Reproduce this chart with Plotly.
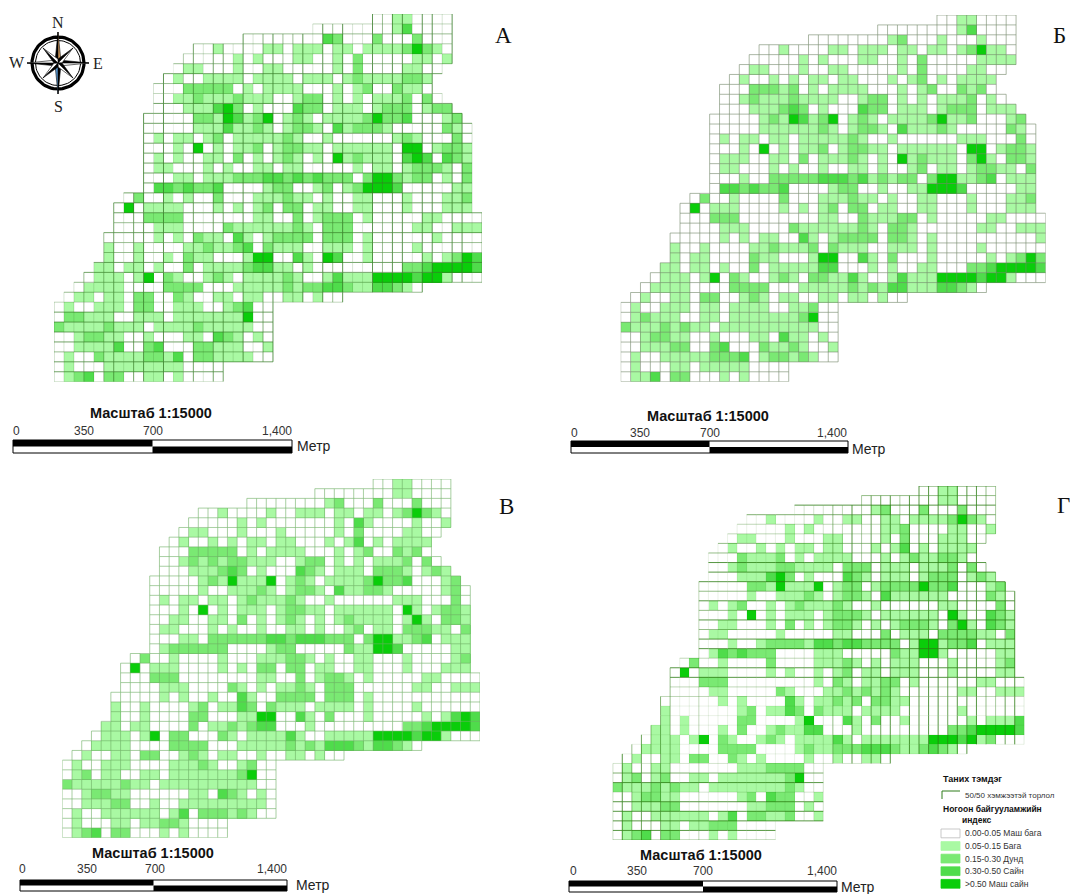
import math
import numpy as np
import plotly.graph_objects as go

W, H = 1070, 894
CLASS_LABELS = ["0.00-0.05 Маш бага", "0.05-0.15 Бага", "0.15-0.30 Дунд", "0.30-0.50 Сайн", ">0.50 Маш сайн"]
CLASS_COLORS = ["#ffffff", "#a9f9a3", "#7ae973", "#4fdc4b", "#0acd0a"]
SCALE_TICKS = ["0", "350", "700", "1,400"]
SCALE_TITLE = "Масштаб 1:15000"

# Each row: cells of columns 0-20 | cells of columns 21-42. '.' = outside the grid.
PANEL_A = [
"|...........00110000",
"|.....00000000130000",
"00|0000003200020002000",
"0010000|1101110110111124210",
"00000101|0001100102000001101",
"011000100|110000010200001100",
"0100111101|11101110121111221",
"00022222010|11110001012002110",
"00112111211|100122010101112020",
"00011134201|0003220111012220122",
"000002214312|40121011112422300012",
"000001113112|101221031222100000210",
"010110120111|112100100000012100020",
"000104010112|012211011111104401221",
"010100110201|012101041211103430321",
"011000101001|101100000101101222102",
"000110111222|332323222024421220102",
"033232230000|122001201244430000011",
"02001010020001|112110100110001000112",
"040111100010101|202201100110001000111",
"000222200000001|1002012220100000110000",
"000011100002111|1112102220000001100111",
"0000010102110310|1222202220100000010000",
"1001000011211230|2111001110100001000000",
"1001001021100014|4003104300100000101243",
"11011010020111123|3110100000000022344443",
"011101402100121011|1121001311144443441000",
"0111100002222000111|1121223321133210",
"01101102200210011011|00110100",
"010011102200111001230|0",
"022111001110111111140|0",
"211112111011112111110|0",
"001221100100011032101|0",
"001111300230002211100|1",
"010021111221302211110|0",
"01000111111110000....|",
"01230220011010000....|",
]
PANEL_B = [
"|...........00110000",
"|.....00000000130000",
"00|0000001200010001000",
"0010000|1101110110110124110",
"00000101|0001100102000001111",
"011000100|110000010200001100",
"0100101011|01100010120101111",
"00022212010|11110001012002120",
"00121112111|100122010101112010",
"00011123201|0003220111012220111",
"000001214312|40121011112411200012",
"000001111112|101221031112100000210",
"010110110111|112100100000011100020",
"000104010112|012211011111104401221",
"011100110201|112101041211102410221",
"011000101001|001101001201101221102",
"000100222223|332312122024411230111",
"033232230000|122001001144430000011",
"02001000020001|112110100110001000112",
"040111000010101|202201100110001000111",
"000222000000001|1002111220100000110000",
"000011100002111|1112102210000001100111",
"0000010101100310|1222202210100000000001",
"1001000011211120|2111001110100001000000",
"1011000021100014|4003102000100000101242",
"11011010020111113|3000101001100022344443",
"011101402100121022|1131001311144443441000",
"0111100002222000111|1121213311133210",
"01001102200121011001|10110100",
"010011101101111001120|0",
"012111001101111111240|0",
"211121211011111111110|0",
"001221100100011031101|0",
"001112200230002112100|1",
"010011111222301221210|0",
"01000110111110000....|",
"01130220001010000....|",
]
PANEL_V = [
"|...........00110000",
"|.....00000000110000",
"00|0000001200020002000",
"0010000|1001110110110124210",
"00000101|0000000103100001001",
"011000100|010000010200001100",
"0100101011|01100010130101111",
"00022222010|11110001012002120",
"00121212211|100122010101112020",
"00011123201|0003210111022210121",
"000001214111|40121011112422300012",
"000001001112|101221031122100000120",
"010110110121|112100100000011100020",
"000104010111|012211011111104101221",
"001100110201|012101012111101410221",
"011000101001|001101001201102221102",
"000110222222|332333222024411230111",
"012222220000|122000002114430000011",
"02001000010001|112210100110001000012",
"040111000010102|202201100110001000111",
"000222000000001|1002012210100000110000",
"000011100002101|0112102220000001100111",
"0000010100100310|0222202220100000000000",
"1001000012011320|2111011110100001000000",
"1001000022000114|4003102000100000101343",
"11011000020112123|3000100000000022344443",
"011101402200021011|1131001111144443441000",
"0111100002222000111|1121213332133210",
"01001102200121011001|00110100",
"010011100001112100120|0",
"012011001101111111240|0",
"211111211011111111110|0",
"001221100000011032101|0",
"001112200100111111111|0",
"010011111101302221210|0",
"01000110112210000....|",
"01230220001010000....|",
]
PANEL_G = [
"|...........00110000",
"|.....00000000110000",
"00|0000001200020002000",
"0010000|1001100110111124210",
"00000101|0000000112000011001",
"011000100|011000010200011100",
"0100101011|01100010130101111",
"00021112010|11110001012112210",
"00121112211|110222011101112020",
"00011134201|0003210111012220121",
"000002214111|40122012222422300012",
"000001001112|101221031111110000210",
"010120010121|112100100000011000020",
"000104010111|012221011111104100321",
"001100010201|012210101222102410321",
"011000001000|001100020111022221102",
"000100122221|332332222014412230111",
"013232220000|111000002114410000011",
"02001000020000|111210101110001000012",
"040111000010100|101201101110001000011",
"000222000000000|1021011220100000011000",
"000011000002100|0112121210000001100111",
"0000001010000310|1121202211000000000000",
"1000000012011320|2111011110000001000000",
"1010000022000014|0003102001000000101113",
"11010001020012113|3000100000000022344443",
"011101402100121011|1131011111114443412000",
"0111100002222000012|1122233321123210",
"01001102200210100001|00100110",
"010011000000011122220|0",
"012012001101111111240|0",
"211121211011111111210|0",
"001221100000012032200|1",
"001112200000001122201|0",
"010011111101302211200|1",
"01000110112220000....|",
"01230220001010000....|",
]

# Strength (tenths of opacity) of each vertical and horizontal grid line.
A_V = "4225257278" "2814727728" "2685582858" "2285882882" "8825"
A_H = "335435753" "777777777777" "575577553" "77775773"
B_V = "6" * 44
B_H = "6" * 38
V_V = "6" * 44
V_H = "6" * 38
G_V = "5857565" "113" "1111111111" "2225" "38477848888788854783"
G_H = "85863355" "88858585883883" "3111111" "26828888585"


def parse(rows):
    out = []
    for row in rows:
        left, right = row.split("|")
        out.append((left.rjust(21, ".") + right.ljust(22, "."))[:43])
    return out


def grid_z(rows):
    return np.array([[np.nan if ch == "." else int(ch) for ch in r] for r in rows], dtype=float)


def line_groups(z, v, h):
    nr, nc = z.shape
    has = ~np.isnan(z)
    groups = {}
    for b in range(nc + 1):
        for r in range(nr):
            if (b > 0 and has[r, b - 1]) or (b < nc and has[r, b]):
                g = groups.setdefault(v[min(b, len(v) - 1)], ([], []))
                g[0].extend([b - .5, b - .5, None])
                g[1].extend([r - .5, r + .5, None])
    for b in range(nr + 1):
        for c in range(nc):
            if (b > 0 and has[b - 1, c]) or (b < nr and has[b, c]):
                g = groups.setdefault(h[min(b, len(h) - 1)], ([], []))
                g[0].extend([c - .5, c + .5, None])
                g[1].extend([b - .5, b - .5, None])
    return groups


# panel: rows, v-lines, h-lines, line rgb, pixel box, letter, letter pos, scale bar
PANELS = [
    dict(rows=PANEL_A, v=A_V, h=A_H, rgb="55,125,40", box=(54, 482, 14, 381.7), letter="А", lpos=(503, 36),
         bar=(13, 292, 440, 453), tx=(16, 84, 153, 277), ty=431, title=(151, 413), metr=(295, 446)),
    dict(rows=PANEL_B, v=B_V, h=B_H, rgb="115,135,105", box=(620.7, 1045.7, 15, 381.7), letter="Б", lpos=(1059, 35),
         bar=(571, 848, 441, 453), tx=(574, 640, 710, 832), ty=433, title=(708, 416), metr=(850, 449)),
    dict(rows=PANEL_V, v=V_V, h=V_H, rgb="110,175,100", box=(62.3, 480, 479, 837.7), letter="В", lpos=(506, 506),
         bar=(20, 287, 880, 891), tx=(22, 87, 155, 272), ty=869, title=(153, 853), metr=(294, 885)),
    dict(rows=PANEL_G, v=G_V, h=G_H, rgb="45,125,20", box=(612.7, 1024.3, 486, 840), letter="Г", lpos=(1063, 505),
         bar=(569, 837, 881, 892), tx=(573, 637, 703, 822), ty=871, title=(701, 855), metr=(839, 887)),
]

px = lambda x: x / W
py = lambda y: 1 - y / H
fig = go.Figure()
layout = dict(width=W, height=H, margin=dict(l=0, r=0, t=0, b=0), paper_bgcolor="white", plot_bgcolor="rgba(0,0,0,0)",
              showlegend=False)
shapes, notes = [], []
n = len(CLASS_COLORS)
scale = []
for i, col in enumerate(CLASS_COLORS):
    scale += [[i / n, col], [(i + 1) / n, col]]


def rect(x0, x1, y0, y1, fill, line="black", lw=1):
    shapes.append(dict(type="rect", xref="paper", yref="paper", x0=px(x0), x1=px(x1), y0=py(y1), y1=py(y0),
                       fillcolor=fill, line=dict(color=line, width=lw)))


def note(x, y, text, size, color="#222222", family="Liberation Sans", anchor="center", bold=False):
    notes.append(dict(xref="paper", yref="paper", x=px(x), y=py(y), text=f"<b>{text}</b>" if bold else text,
                      showarrow=False, xanchor=anchor, yanchor="middle",
                      font=dict(size=size, color=color, family=family)))


for k, p in enumerate(PANELS, start=1):
    rows = parse(p["rows"])
    z = grid_z(rows)
    xa, ya = f"x{k}", f"y{k}"
    fig.add_trace(go.Heatmap(z=z, x=list(range(43)), y=list(range(37)), xaxis=xa, yaxis=ya, zmin=-.5, zmax=4.5,
                             colorscale=scale, showscale=False, hoverinfo="skip"))
    for digit, (xs, ys) in sorted(line_groups(z, p["v"], p["h"]).items()):
        fig.add_trace(go.Scatter(x=xs, y=ys, xaxis=xa, yaxis=ya, mode="lines", cliponaxis=False, hoverinfo="skip",
                                 line=dict(width=1, color=f"rgba({p['rgb']},{int(digit) / 10})")))
    x0, x1, y0, y1 = p["box"]
    layout[f"xaxis{k}"] = dict(domain=[px(x0), px(x1)], range=[-.5, 42.5], visible=False, anchor=ya, fixedrange=True)
    layout[f"yaxis{k}"] = dict(domain=[py(y1), py(y0)], range=[36.5, -.5], visible=False, anchor=xa, fixedrange=True)
    note(*p["lpos"], p["letter"], 23, "#111111", "Liberation Serif")
    bx0, bx1, by0, by1 = p["bar"]
    bm = (bx0 + bx1) / 2
    ym = (by0 + by1) / 2
    rect(bx0, bx1, by0, by1, "white")
    rect(bx0, bm, by0, ym, "black", lw=0)
    rect(bm, bx1, ym, by1, "black", lw=0)
    for tx, lab in zip(p["tx"], SCALE_TICKS):
        note(tx, p["ty"], lab, 12, "#333333")
    note(p["metr"][0], p["metr"][1], "Метр", 14, "#222222", anchor="left")
    note(*p["title"], SCALE_TITLE, 14.5, "#111111", bold=True)

# compass rose
cx, cy, cr = 58, 63, 40
layout["xaxis5"] = dict(domain=[px(cx - cr), px(cx + cr)], range=[-cr, cr], visible=False, anchor="y5", fixedrange=True)
layout["yaxis5"] = dict(domain=[py(cy + cr), py(cy - cr)], range=[-cr, cr], visible=False, anchor="x5", fixedrange=True)


def poly(points, fill, line=None):
    xs = [a for a, _ in points] + [points[0][0]]
    ys = [b for _, b in points] + [points[0][1]]
    fig.add_trace(go.Scatter(x=xs, y=ys, xaxis="x5", yaxis="y5", mode="lines", fill="toself", fillcolor=fill,
                             line=dict(width=.6, color=line or fill), hoverinfo="skip"))


def ring(radius, width, color):
    t = [2 * math.pi * i / 72 for i in range(73)]
    fig.add_trace(go.Scatter(x=[radius * math.cos(a) for a in t], y=[radius * math.sin(a) for a in t], xaxis="x5",
                             yaxis="y5", mode="lines", line=dict(width=width, color=color), hoverinfo="skip"))


ring(26, 3.2, "black")
ring(22.5, 1, "black")
for deg in range(0, 360, 90):
    long_r, short_r = 31, 4
    a = math.radians(deg)
    tip = (long_r * math.sin(a), long_r * math.cos(a))
    l = (short_r * math.sin(a - math.pi / 4), short_r * math.cos(a - math.pi / 4))
    r = (short_r * math.sin(a + math.pi / 4), short_r * math.cos(a + math.pi / 4))
    poly([(0, 0), tip, l], "black")
    poly([(0, 0), tip, r], "#d9a060" if deg == 0 else ("#5b9bd5" if deg == 180 else "white"), "black")
for deg in range(45, 360, 90):
    long_r, short_r = 21, 4
    a = math.radians(deg)
    tip = (long_r * math.sin(a), long_r * math.cos(a))
    l = (short_r * math.sin(a - math.pi / 4), short_r * math.cos(a - math.pi / 4))
    r = (short_r * math.sin(a + math.pi / 4), short_r * math.cos(a + math.pi / 4))
    poly([(0, 0), tip, l], "black")
    poly([(0, 0), tip, r], "white", "black")
for lab, x, y in (("N", 58, 22), ("S", 58, 106), ("W", 17, 63), ("E", 98, 64)):
    note(x, y, lab, 16, "#222222", "Liberation Serif")

# legend
note(941, 779, "Таних тэмдэг", 9, "#111111", anchor="left", bold=True)
shapes.append(dict(type="path", xref="paper", yref="paper",
                   path=f"M {px(942)} {py(799)} L {px(942)} {py(791)} L {px(960)} {py(791)}",
                   line=dict(color="#2f7d1a", width=1)))
note(963, 795, "50/50 хэмжээтэй торлол", 8, "#333333", anchor="left")
note(941, 809, "Ногоон байгууламжийн", 8.5, "#111111", anchor="left", bold=True)
note(977, 820, "индекс", 8.5, "#111111", bold=True)
for i, (lab, col) in enumerate(zip(CLASS_LABELS, CLASS_COLORS)):
    y = 829 + 12.6 * i
    rect(941, 960, y, y + 8.8, col, "#bbbbbb" if i == 0 else col, .8)
    note(963, y + 4.4, lab, 8.5, "#333333", anchor="left")

fig.update_layout(shapes=shapes, annotations=notes, **layout)
fig.write_html("out.html", config=dict(displayModeBar=False),
               post_script="document.body.style.margin='0';document.body.style.overflow='hidden';")
